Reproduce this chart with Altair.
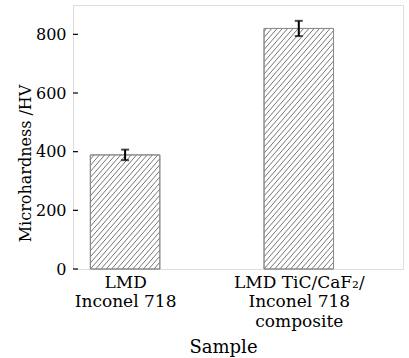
import altair as alt
import pandas as pd
import numpy as np

# ---- data ----
sample_pos = [1, 2]
sample_labels = [["LMD", "Inconel 718"], ["LMD TiC/CaF₂/", "Inconel 718", "composite"]]
hardness = [389, 820]
hardness_err = [18, 26]
y_ticks = [0, 200, 400, 600, 800]

# ---- layout / style constants ----
W, H = 330, 264
X_DOM = [0.7, 2.6]
Y_DOM = [0, 900]
BAR_HALF = 0.2
FONT = "DejaVu Serif"

df = pd.DataFrame({
    "pos": sample_pos,
    "hv": hardness,
    "err": hardness_err,
})
df["x0"] = df["pos"] - BAR_HALF
df["x1"] = df["pos"] + BAR_HALF
df["lo"] = df["hv"] - df["err"]
df["hi"] = df["hv"] + df["err"]

tick_df = pd.DataFrame({"t": y_ticks})

# hatch segments ("///") derived from the bars, clipped to each bar
px_per_x = W / (X_DOM[1] - X_DOM[0])
px_per_y = H / (Y_DOM[1] - Y_DOM[0])
spacing = 5.3   # horizontal px between hatch lines
slope = 1.15    # px rise per px run
segs = []
for _, r in df.iterrows():
    bw = (r.x1 - r.x0) * px_per_x
    bh = r.hv * px_per_y
    c = -bh / slope
    c = np.floor(c / spacing) * spacing
    while c < bw:
        a = max(0.0, c)
        b = min(bw, c + bh / slope)
        if b > a:
            segs.append({
                "hx": r.x0 + a / px_per_x,
                "hy": slope * (a - c) / px_per_y,
                "hx2": r.x0 + b / px_per_x,
                "hy2": slope * (b - c) / px_per_y,
            })
        c += spacing
hatch_df = pd.DataFrame(segs)

label_expr = "datum.value == 1 ? %s : %s" % (
    str(sample_labels[0]), str(sample_labels[1]))

xscale = alt.Scale(domain=X_DOM, nice=False, zero=False)
yscale = alt.Scale(domain=Y_DOM, nice=False)

x_axis = alt.Axis(
    values=sample_pos, labelExpr=label_expr, ticks=False, domain=False, grid=False,
    labelFont=FONT, labelFontSize=17, labelColor="black", labelLineHeight=19.5,
    labelPadding=5, labelBaseline="top",
    title="Sample", titleFont=FONT, titleFontSize=18, titleFontWeight="normal",
    titleColor="black", titleX=150, titleY=83, titleBaseline="alphabetic",
    titleAlign="center",
)
y_axis = alt.Axis(
    values=y_ticks, ticks=False, domain=False, grid=False,
    labelFont=FONT, labelFontSize=16, labelColor="black", labelPadding=7,
    title="Microhardness /HV", titleFont=FONT, titleFontSize=16,
    titleFontWeight="normal", titleColor="black", titleX=-43, titleY=158,
    titleAngle=-90, titleBaseline="alphabetic", titleAlign="center",
)

bars = alt.Chart(df).mark_bar(fill="white", stroke="#8c8c8c", strokeWidth=1).encode(
    x=alt.X("x0:Q", scale=xscale, axis=x_axis),
    x2="x1:Q",
    y=alt.Y("hv:Q", scale=yscale, axis=y_axis),
    y2=alt.datum(0),
)

hatch = alt.Chart(hatch_df).mark_rule(color="#666666", strokeWidth=0.9).encode(
    x=alt.X("hx:Q", scale=xscale),
    x2="hx2:Q",
    y=alt.Y("hy:Q", scale=yscale),
    y2="hy2:Q",
)

outline = alt.Chart(df).mark_bar(fill=None, stroke="#8c8c8c", strokeWidth=1).encode(
    x=alt.X("x0:Q", scale=xscale),
    x2="x1:Q",
    y=alt.Y("hv:Q", scale=yscale),
    y2=alt.datum(0),
)

# inward y ticks
inner_ticks = alt.Chart(tick_df).mark_rule(color="black", strokeWidth=1.2).encode(
    x=alt.value(0),
    x2=alt.value(5),
    y=alt.Y("t:Q", scale=yscale),
)

err_rule = alt.Chart(df).mark_rule(color="black", strokeWidth=2).encode(
    x=alt.X("pos:Q", scale=xscale),
    y=alt.Y("lo:Q", scale=yscale),
    y2="hi:Q",
)
cap_lo = alt.Chart(df).mark_tick(color="black", thickness=2, size=8, orient="horizontal").encode(
    x=alt.X("pos:Q", scale=xscale),
    y=alt.Y("lo:Q", scale=yscale),
)
cap_hi = alt.Chart(df).mark_tick(color="black", thickness=2, size=8, orient="horizontal").encode(
    x=alt.X("pos:Q", scale=xscale),
    y=alt.Y("hi:Q", scale=yscale),
)

chart = alt.layer(bars, hatch, outline, inner_ticks, err_rule, cap_lo, cap_hi).properties(
    width=W, height=H,
    autosize=alt.AutoSizeParams(type="none"),
    padding={"left": 73, "top": 5, "right": 6, "bottom": 89},
).configure_view(
    stroke="black", strokeWidth=1.5
).configure(background="white")

chart.save("out.html", embed_options={"renderer": "svg", "actions": False})
